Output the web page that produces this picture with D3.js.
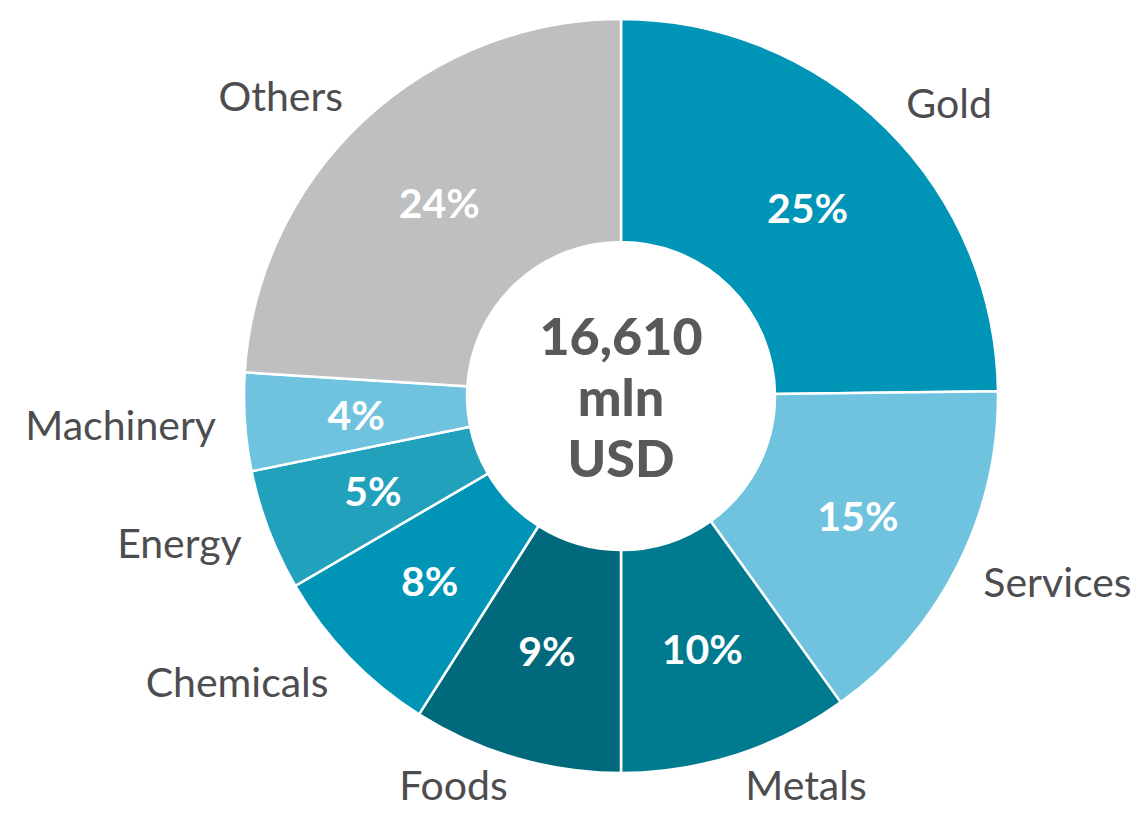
<!DOCTYPE html>
<html lang="en">
<head>
<meta charset="utf-8"/>
<style>
  body { margin: 0; background: #ffffff; }
  svg text { font-family: "Lato", "Open Sans", sans-serif; }
  .outer-label { font-size: 41px; fill: #4d4d4f; }
  .pct-label { font-size: 41px; font-weight: 700; fill: #ffffff; }
  .center-label { font-size: 52px; font-weight: 900; fill: #58595b; }
</style>
</head>
<body>
<svg id="chart" width="1141" height="814"></svg>

<script src="https://d3js.org/d3.v7.min.js"></script>
<script>
// shares of total
let categories = ["Gold", "Services", "Metals", "Foods", "Chemicals", "Energy", "Machinery", "Others"]
let shares = [24.8, 15.3, 9.9, 9.0, 7.6, 5.2, 4.2, 24.0]
let colors = ["#0095b6", "#6fc3df", "#007a8f", "#006a7c", "#0095b6", "#22a1bc", "#6fc3df", "#bebfc1"]
let centerLines = ["16,610", "mln", "USD"]

let height = 814
let cx = 621
let cy = 396
let outerR = 377
let innerR = 154
let labelRx = 406  // outer labels sit on a slightly tall ellipse
let labelRy = 412
let maxLabelY = height - 30 - cy  // keep bottom labels inside the picture

let svg = d3.select("#chart")
let g = svg.append("g").attr("transform", "translate(" + cx + "," + cy + ")")

let data = categories.map((c, i) => ({ name: c, value: shares[i], color: colors[i] }))

let pie = d3.pie().value(d => d.value).sort(null)
let arcs = pie(data)

let arc = d3.arc().innerRadius(innerR).outerRadius(outerR)

g.selectAll("path.slice")
  .data(arcs)
  .enter()
  .append("path")
  .attr("class", "slice")
  .attr("d", arc)
  .attr("fill", d => d.data.color)
  .attr("stroke", "#ffffff")
  .attr("stroke-width", 2.5)

// percentages inside slices
g.selectAll("text.pct-label")
  .data(arcs)
  .enter()
  .append("text")
  .attr("class", "pct-label")
  .attr("x", d => arc.centroid(d)[0])
  .attr("y", d => arc.centroid(d)[1])
  .attr("text-anchor", "middle")
  .attr("dominant-baseline", "central")
  .text(d => Math.round(d.data.value) + "%")

// category names outside
let mid = d => (d.startAngle + d.endAngle) / 2
g.selectAll("text.outer-label")
  .data(arcs)
  .enter()
  .append("text")
  .attr("class", "outer-label")
  .attr("x", d => labelRx * Math.sin(mid(d)))
  .attr("y", d => Math.min(-labelRy * Math.cos(mid(d)), maxLabelY))
  .attr("text-anchor", d => Math.sin(mid(d)) >= 0 ? "start" : "end")
  .attr("dominant-baseline", "central")
  .text(d => d.data.name)

// total in the hole
g.selectAll("text.center-label")
  .data(centerLines)
  .enter()
  .append("text")
  .attr("class", "center-label")
  .attr("x", 0)
  .attr("y", (d, i) => (i - 1) * 61)
  .attr("text-anchor", "middle")
  .attr("dominant-baseline", "central")
  .text(d => d)
</script>
</body>
</html>
